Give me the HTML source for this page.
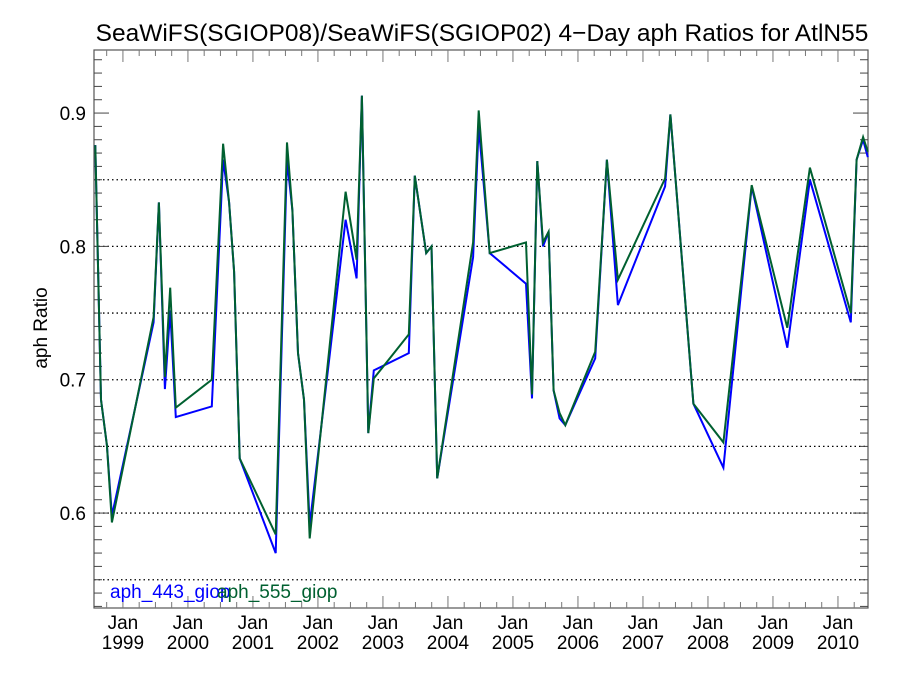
<!DOCTYPE html>
<html><head><meta charset="utf-8"><style>
body{margin:0;background:#fff}
svg text{font-family:"Liberation Sans",sans-serif}
</style></head><body>
<svg id="chart" width="900" height="675" viewBox="0 0 900 675" xmlns="http://www.w3.org/2000/svg">
<rect width="900" height="675" fill="#fff"/>
<text x="482" y="41" font-size="24.5" text-anchor="middle">SeaWiFS(SGIOP08)/SeaWiFS(SGIOP02) 4−Day aph Ratios for AtlN55</text>
<text transform="translate(47,328) rotate(-90)" font-size="19" text-anchor="middle">aph Ratio</text>
<g id="grid"></g><g id="axes"></g><g id="series"></g>
<text x="110" y="598" font-size="19" fill="#0000ff">aph_443_giop</text>
<text x="217" y="598" font-size="19" fill="#006030">aph_555_giop</text>
</svg>
<script>
const years=[1998.575,1998.662,1998.754,1998.831,1999.472,1999.553,1999.645,1999.727,1999.814,2000.367,2000.541,2000.633,2000.710,2000.797,2001.350,2001.524,2001.607,2001.693,2001.785,2001.873,2002.425,2002.594,2002.676,2002.774,2002.860,2003.398,2003.490,2003.665,2003.747,2003.834,2004.387,2004.473,2004.642,2005.201,2005.293,2005.375,2005.462,2005.548,2005.625,2005.717,2005.805,2006.266,2006.445,2006.614,2007.341,2007.422,2007.776,2008.237,2008.673,2009.220,2009.568,2010.198,2010.286,2010.387,2010.459];
const aph443=[0.876,0.685,0.651,0.598,0.743,0.833,0.693,0.752,0.672,0.680,0.865,0.833,0.781,0.641,0.570,0.865,0.827,0.720,0.685,0.591,0.820,0.776,0.913,0.660,0.707,0.720,0.853,0.795,0.800,0.626,0.792,0.890,0.795,0.772,0.686,0.864,0.800,0.811,0.692,0.671,0.666,0.716,0.865,0.756,0.845,0.899,0.682,0.634,0.845,0.724,0.850,0.743,0.865,0.880,0.867];
const aph555=[0.876,0.685,0.651,0.593,0.747,0.833,0.702,0.769,0.679,0.700,0.877,0.833,0.781,0.641,0.584,0.878,0.827,0.720,0.685,0.581,0.841,0.790,0.913,0.660,0.701,0.734,0.853,0.795,0.800,0.626,0.803,0.902,0.795,0.803,0.689,0.864,0.803,0.811,0.692,0.675,0.666,0.721,0.865,0.775,0.851,0.899,0.682,0.653,0.846,0.739,0.859,0.750,0.865,0.882,0.871];
const yTicks=[0.6,0.7,0.8,0.9];
const gridVals=[0.55,0.6,0.65,0.7,0.75,0.8,0.85];
const xYears=[1999,2000,2001,2002,2003,2004,2005,2006,2007,2008,2009,2010];

const L=94,R=868,T=50,B=608;
const X0=1998.555,X1=2010.462,Y0=0.5288,Y1=0.9473;
const sx=v=>L+(v-X0)/(X1-X0)*(R-L);
const sy=v=>B-(v-Y0)/(Y1-Y0)*(B-T);
const NS="http://www.w3.org/2000/svg";
function mk(parent,tag,attrs){const e=document.createElementNS(NS,tag);for(const k in attrs)e.setAttribute(k,attrs[k]);parent.appendChild(e);return e;}
const grid=document.getElementById('grid'),axes=document.getElementById('axes'),ser=document.getElementById('series');
gridVals.forEach(v=>{const l=mk(grid,'line',{x1:L,x2:R,y1:sy(v),y2:sy(v),stroke:'#000','stroke-width':1.3,'stroke-dasharray':'1.5 3'});

});
const frame=mk(axes,'rect',{x:L,y:T,width:R-L,height:B-T,fill:'none',stroke:'#555','stroke-width':1.2});


for(let i=53;i<=94;i++){const v=i/100;const y=sy(v);const major=(i%10===0);const len=major?15:8;
mk(axes,'line',{x1:L,x2:L+len,y1:y,y2:y,stroke:'#444','stroke-width':1});
mk(axes,'line',{x1:R,x2:R-len,y1:y,y2:y,stroke:'#444','stroke-width':1});}
yTicks.forEach(v=>{const t=mk(axes,'text',{x:L-8,y:sy(v)+7,'font-size':19,'text-anchor':'end'});t.textContent=v.toFixed(1);

});
for(let q=1998.5;q<=2010.5;q+=0.25){if(q<X0||q>X1)continue;const x=sx(q);const major=Math.abs(q-Math.round(q))<1e-6;const len=major?12:6;
mk(axes,'line',{x1:x,x2:x,y1:B,y2:B-len,stroke:'#777','stroke-width':1});
mk(axes,'line',{x1:x,x2:x,y1:T,y2:T+len,stroke:'#777','stroke-width':1});}
xYears.forEach(yr=>{const x=sx(yr);
const a=mk(axes,'text',{x:x,y:B+21,'font-size':19,'text-anchor':'middle'});a.textContent='Jan';


const b=mk(axes,'text',{x:x,y:B+41,'font-size':19,'text-anchor':'middle'});b.textContent=String(yr);

});
function line(vals,color,name){const d=vals.map((v,i)=>(i?'L':'M')+sx(years[i]).toFixed(1)+' '+sy(v).toFixed(1)).join(' ');
const p=mk(ser,'path',{d:d,fill:'none',stroke:color,'stroke-width':2,'stroke-linejoin':'miter'});

}
line(aph443,'#0000ff','series-aph-443');
line(aph555,'#006030','series-aph-555');
</script>
</body></html>
